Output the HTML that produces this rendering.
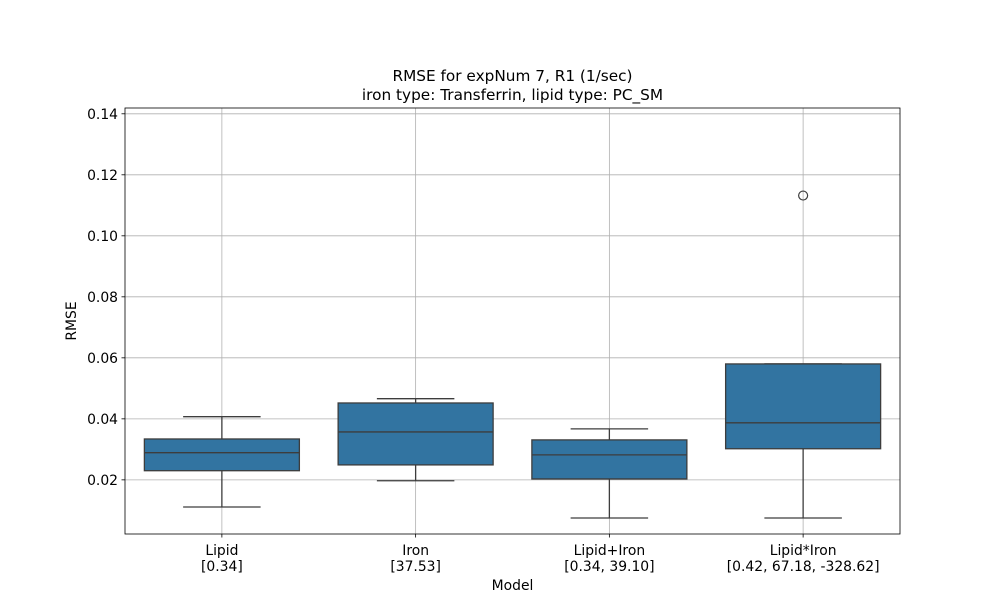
<!DOCTYPE html>
<html><head><meta charset="utf-8"><style>
body{margin:0;background:#fff;font-family:"DejaVu Sans","Liberation Sans",sans-serif}
</style></head><body>
<svg id="chart" width="1000" height="600" xmlns="http://www.w3.org/2000/svg" font-family="DejaVu Sans, Liberation Sans, sans-serif"></svg>
<script>
const categories=["Lipid","Iron","Lipid+Iron","Lipid*Iron"];
const subLabels=["[0.34]","[37.53]","[0.34, 39.10]","[0.42, 67.18, -328.62]"];
const whiskerLow=[0.0111,0.0197,0.0075,0.0075];
const q1=[0.0230,0.0249,0.0203,0.0302];
const medians=[0.0289,0.0357,0.0282,0.0387];
const q3=[0.0334,0.0452,0.0331,0.0580];
const whiskerHigh=[0.0407,0.0466,0.0367,0.0580];
const outliers=[[],[],[],[0.1132]];
const yTicks=[0.02,0.04,0.06,0.08,0.10,0.12,0.14];
const yTickLabels=["0.02","0.04","0.06","0.08","0.10","0.12","0.14"];

const L=125,R=900,T=108,B=534,yMin=0.00225,yMax=0.1419;
const FS=13.9;
const svg=document.getElementById('chart');
const NS="http://www.w3.org/2000/svg";
function y(v){return B-(v-yMin)/(yMax-yMin)*(B-T);}
const step=(R-L)/categories.length;
function x(i){return L+step*(i+0.5);}
function mk(tag,attrs,text){const e=document.createElementNS(NS,tag);for(const k in attrs)e.setAttribute(k,attrs[k]);if(text!==undefined)e.textContent=text;svg.appendChild(e);return e;}

yTicks.forEach((t,i)=>{
  const g=mk('line',{x1:L,x2:R,y1:y(t),y2:y(t),stroke:'#b0b0b0','stroke-width':0.8});
  
  
  const tk=mk('line',{x1:L-3.5,x2:L,y1:y(t),y2:y(t),stroke:'#000','stroke-width':0.8});
  
  
  const lb=mk('text',{x:L-7,y:y(t)+5,'text-anchor':'end','font-size':FS},yTickLabels[i]);
  
  
});
categories.forEach((c,i)=>{
  const g=mk('line',{x1:x(i),x2:x(i),y1:T,y2:B,stroke:'#b0b0b0','stroke-width':0.8});
  
  
  const tk=mk('line',{x1:x(i),x2:x(i),y1:B,y2:B+3.5,stroke:'#000','stroke-width':0.8});
  
  
  const a=mk('text',{x:x(i),y:B+21,'text-anchor':'middle','font-size':FS},c);
  
  
  const b=mk('text',{x:x(i),y:B+37,'text-anchor':'middle','font-size':FS},subLabels[i]);
  
  
});
const bw=step*0.8;
categories.forEach((c,i)=>{
  const cx=x(i),st='#3d3d3d';
  const w1=mk('line',{x1:cx,x2:cx,y1:y(whiskerLow[i]),y2:y(q1[i]),stroke:st,'stroke-width':1.3});
  
  
  const w2=mk('line',{x1:cx,x2:cx,y1:y(q3[i]),y2:y(whiskerHigh[i]),stroke:st,'stroke-width':1.3});
  
  
  const c1=mk('line',{x1:cx-bw/4,x2:cx+bw/4,y1:y(whiskerLow[i]),y2:y(whiskerLow[i]),stroke:st,'stroke-width':1.3});
  
  
  const c2=mk('line',{x1:cx-bw/4,x2:cx+bw/4,y1:y(whiskerHigh[i]),y2:y(whiskerHigh[i]),stroke:st,'stroke-width':1.3});
  
  
  const r=mk('rect',{x:cx-bw/2,y:y(q3[i]),width:bw,height:y(q1[i])-y(q3[i]),fill:'#3274a1',stroke:st,'stroke-width':1.3});
  
  
  const m=mk('line',{x1:cx-bw/2,x2:cx+bw/2,y1:y(medians[i]),y2:y(medians[i]),stroke:st,'stroke-width':1.3});
  
  
  outliers[i].forEach(v=>{
    const o=mk('circle',{cx:cx,cy:y(v),r:4.5,fill:'none',stroke:st,'stroke-width':1.2});
    
    
  });
});
const fr=mk('rect',{x:L,y:T,width:R-L,height:B-T,fill:'none',stroke:'#000','stroke-width':0.8});


const t1=mk('text',{x:(L+R)/2,y:81,'text-anchor':'middle','font-size':15.3},'RMSE for expNum 7, R1 (1/sec)');


const t2=mk('text',{x:(L+R)/2,y:100,'text-anchor':'middle','font-size':15.3},'iron type: Transferrin, lipid type: PC_SM');


const xt=mk('text',{x:(L+R)/2,y:590,'text-anchor':'middle','font-size':FS},'Model');


const yt=mk('text',{x:0,y:0,'text-anchor':'middle','font-size':FS,transform:'translate(76,'+((T+B)/2)+') rotate(-90)'},'RMSE');


</script>
</body></html>
